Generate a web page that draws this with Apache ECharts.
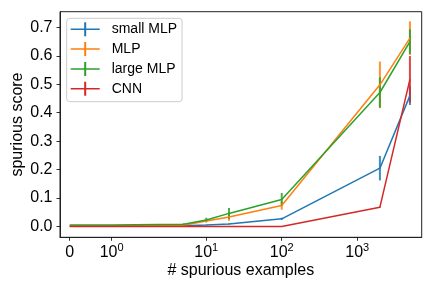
<!DOCTYPE html>
<html>
<head>
<meta charset="utf-8">
<script src="https://cdn.jsdelivr.net/npm/echarts@6/dist/echarts.min.js"></script>
<style>html,body{margin:0;padding:0;background:#fff}#c{width:432px;height:288px}</style>
</head>
<body>
<div id="c"></div>
<script>
// x values (# spurious examples)
const xs = [0, 1, 5, 10, 20, 100, 2000, 5000];
// series values and error half-widths
const smallMLP    = [0.002, 0.002, 0.003, 0.005, 0.009, 0.027, 0.205, 0.460];
const smallMLPErr = [0.000, 0.000, 0.001, 0.001, 0.002, 0.004, 0.043, 0.033];
const mlp         = [0.003, 0.003, 0.004, 0.019, 0.033, 0.074, 0.498, 0.662];
const mlpErr      = [0.000, 0.000, 0.001, 0.004, 0.013, 0.015, 0.082, 0.059];
const largeMLP    = [0.005, 0.005, 0.008, 0.023, 0.046, 0.095, 0.471, 0.650];
const largeMLPErr = [0.000, 0.000, 0.003, 0.008, 0.019, 0.023, 0.053, 0.043];
const cnn         = [0.000, 0.000, 0.000, 0.000, 0.000, 0.000, 0.068, 0.517];
const cnnErr      = [0.000, 0.000, 0.000, 0.000, 0.000, 0.000, 0.002, 0.082];
const names = ['small MLP', 'MLP', 'large MLP', 'CNN'];
const colors = ['#1f77b4', '#ff7f0e', '#2ca02c', '#d62728'];
// tick labels
const xTickValues = [0, 1, 10, 100, 1000];
const xTickLabels = ['{b|0}', '{b|10}{s|0}', '{b|10}{s|1}', '{b|10}{s|2}', '{b|10}{s|3}'];
const yTickValues = [0, 0.1, 0.2, 0.3, 0.4, 0.5, 0.6, 0.7];

// symmetric log scale (linthresh 2, linscale 1)
const LT = 2, LS = 1 / (1 - 1 / 10);
function symlog(x) {
  const a = Math.abs(x);
  const v = a <= LT ? a * LS : LT * (LS + Math.log10(a / LT));
  return x < 0 ? -v : v;
}

const allVals = [smallMLP, mlp, largeMLP, cnn];
const allErrs = [smallMLPErr, mlpErr, largeMLPErr, cnnErr];
const xTickT = xTickValues.map(symlog);

const series = [];
allVals.forEach((vals, i) => {
  series.push({
    name: names[i], type: 'line', symbol: 'none', z: 2,
    color: colors[i],
    lineStyle: { width: 1.5, color: colors[i] },
    data: xs.map((x, k) => [symlog(x), vals[k]]),
    animation: false
  });
  series.push({
    name: names[i] + ' err', type: 'custom', z: 2,
    data: xs.map((x, k) => [symlog(x), vals[k] - allErrs[i][k], vals[k] + allErrs[i][k]]),
    encode: { x: 0, y: [1, 2] },
    renderItem: function (params, api) {
      const p1 = api.coord([api.value(0), api.value(1)]);
      const p2 = api.coord([api.value(0), api.value(2)]);
      return { type: 'line', shape: { x1: p1[0], y1: p1[1], x2: p2[0], y2: p2[1] },
               style: { stroke: colors[i], lineWidth: 2, opacity: 0.85 } };
    },
    animation: false
  });
});

const plusIcon = 'path://M0,6.25H29V7.75H0Z M13.5,0H15.5V14H13.5Z';
const font = 'Liberation Sans';
const axisLineStyle = { show: true, onZero: false, lineStyle: { color: '#222', width: 1 } };
const chart = echarts.init(document.getElementById('c'), null, { renderer: 'canvas' });
chart.setOption({
  animation: false,
  grid: { left: 60, right: 10.3, top: 11.7, bottom: 50.7, show: true, borderColor: '#222', borderWidth: 1,
          backgroundColor: 'transparent', outerBoundsMode: 'none', containLabel: false },
  legend: {
    data: names.map((n, i) => ({ name: n, icon: plusIcon, itemStyle: { color: colors[i] } })),
    orient: 'vertical', left: 66.7, top: 18.3, itemWidth: 29, itemHeight: 14, itemGap: 5.8,
    padding: [4, 5, 6, 4], backgroundColor: 'rgba(255,255,255,0.8)', borderColor: '#ccc', borderWidth: 1, borderRadius: 3,
    selectedMode: false,
    textStyle: { fontFamily: font, fontSize: 14, color: '#000', lineHeight: 14, padding: [0, 0, 0, 7] }
  },
  xAxis: {
    type: 'value', min: -0.257, max: 9.33,
    name: '# spurious examples', nameLocation: 'middle', nameGap: 25, nameMoveOverlap: false,
    nameTextStyle: { fontFamily: font, fontSize: 16, color: '#000', lineHeight: 16 },
    axisLine: axisLineStyle,
    splitLine: { show: false },
    axisTick: { show: true, inside: false, customValues: xTickT, length: 3.5, lineStyle: { color: '#000', width: 0.8 } },
    axisLabel: {
      customValues: xTickT, margin: 5,
      formatter: function (v) {
        let best = 0;
        xTickT.forEach((t, k) => { if (Math.abs(t - v) < Math.abs(xTickT[best] - v)) best = k; });
        return xTickLabels[best];
      },
      rich: {
        b: { fontFamily: font, fontSize: 16, color: '#000', lineHeight: 18, verticalAlign: 'bottom' },
        s: { fontFamily: font, fontSize: 11, color: '#000', lineHeight: 18, verticalAlign: 'top', padding: [0, 0, 6, 0] }
      }
    }
  },
  yAxis: {
    type: 'value', min: -0.038, max: 0.755,
    name: 'spurious score', nameLocation: 'middle', nameGap: 34, nameRotate: 90, nameMoveOverlap: false,
    nameTextStyle: { fontFamily: font, fontSize: 16, color: '#000', lineHeight: 16 },
    axisLine: axisLineStyle,
    splitLine: { show: false },
    axisTick: { show: true, inside: false, customValues: yTickValues, length: 3.5, lineStyle: { color: '#000', width: 0.8 } },
    axisLabel: {
      customValues: yTickValues, margin: 7.5,
      fontFamily: font, fontSize: 16, color: '#000',
      formatter: v => v.toFixed(1)
    }
  },
  series: series
});
</script>
</body>
</html>
